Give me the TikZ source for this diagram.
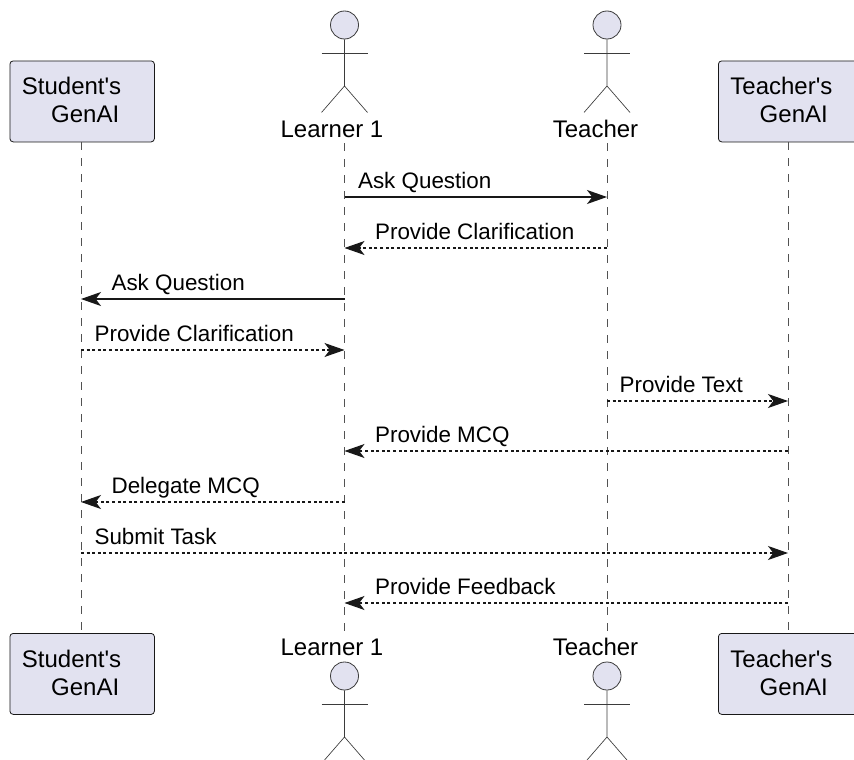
\documentclass[tikz,border=0pt]{standalone}
\usepackage{fontspec}
\setmainfont{Liberation Sans}[Ligatures=TeXOff]
\usetikzlibrary{arrows.meta}
\tikzset{>={Stealth[length=15pt,width=10.5pt,inset=4pt]}}
\definecolor{boxfill}{HTML}{E2E2F0}
\definecolor{boxline}{HTML}{181818}
\tikzset{
  genai/.style={draw=boxline,fill=boxfill,rounded corners=2.5pt,line width=0.6pt,anchor=north west,
    minimum height=60.75pt,inner xsep=9pt,inner ysep=0pt,text width=90.4pt,align=left,font=\fontsize{18}{21}\selectfont,
    execute at end node={\rule[-2pt]{0pt}{2pt}}},
  lifeline/.style={draw=boxline!75,line width=0.4pt,dash pattern=on 6pt off 6pt},
  figure/.style={draw=boxline!85,line width=0.5pt},
  head/.style={draw=boxline!85,fill=boxfill,circle,line width=0.6pt,inner sep=0,minimum size=21pt},
  actorname/.style={font=\fontsize{18}{21}\selectfont,inner sep=0,anchor=base},
  msg/.style={->,draw=boxline,line width=0.9pt},
  reply/.style={msg,line width=0.8pt,dash pattern=on 2.2pt off 2pt},
  msgtext/.style={font=\fontsize{16.8}{20}\selectfont,inner sep=0,anchor=base west},
}

\begin{document}
\begin{tikzpicture}[x=0.75pt,y=-0.75pt]
  \useasboundingbox (0,0) rectangle (854,760);
  \clip (0,0) rectangle (854,760);

  \node[genai] (student) at (9.5,60.5) {Student's\\\hspace*{22pt}GenAI};
  \node[genai] (studentb) at (9.5,633) {Student's\\\hspace*{22pt}GenAI};
  \node[genai,text width=87.5pt] (tutor) at (718,60.5) {Teacher's\\\hspace*{22pt}GenAI};
  \node[genai,text width=87.5pt] (tutorb) at (718,633) {Teacher's\\\hspace*{22pt}GenAI};

  \foreach \a/\x/\cx/\txt in {learner/344.5/332/Learner 1, teacher/607/595.5/Teacher} {
    \node[head] (\a head) at (\x,25) {};
    \draw[figure] (\a head.south) -- (\x,86) -- (\x-23,112.5) (\x,86) -- (\x+23,112.5);
    \draw[figure] (\x-23,53) -- (\x+23,53);
    \node[actorname] (\a top) at (\cx,137) {\txt};
    \coordinate (\a up) at (\x,143);

    \node[actorname] (\a bot) at (\cx,655) {\txt};
    \node[head] (\a headb) at (\x,676) {};
    \draw[figure] (\a headb.south) -- (\x,737) -- (\x-23,763.5) (\x,737) -- (\x+23,763.5);
    \draw[figure] (\x-23,704) -- (\x+23,704);
    \coordinate (\a down) at (\x,632);
  }

  \draw[lifeline] ([xshift=-0.6pt]student.south) -- ([xshift=-0.6pt]studentb.north);
  \draw[lifeline] (learnerup) -- (learnerdown);
  \draw[lifeline] (teacherup) -- (teacherdown);
  \draw[lifeline] (tutor.south) -- (tutorb.north);

  \foreach \m/\y in {1/197, 2/248, 3/299, 4/350, 5/401, 6/451, 7/502, 8/553, 9/603} {
    \coordinate (s\m) at (81,\y);
    \coordinate (l\m) at (344.5,\y);
    \coordinate (t\m) at (607,\y);
    \coordinate (g\m) at (788,\y);
  }

  \foreach \m/\from/\to/\kind/\left/\dx/\txt in {
      1/l/t/msg/l/14/Ask Question,
      2/t/l/reply/l/31/Provide Clarification,
      3/l/s/msg/s/31/Ask Question,
      4/s/l/reply/s/14/Provide Clarification,
      5/t/g/reply/t/13/Provide Text,
      6/g/l/reply/l/31/Provide MCQ,
      7/l/s/reply/s/31/Delegate MCQ,
      8/s/g/reply/s/14/Submit Task,
      9/g/l/reply/l/31/Provide Feedback} {
    \draw[\kind] (\from\m) -- (\to\m);
    \node[msgtext] (note\m) at ([xshift=\dx*0.75pt-0.5pt,yshift=6.3pt]\left\m) {\txt};
  }
\end{tikzpicture}
\end{document}
